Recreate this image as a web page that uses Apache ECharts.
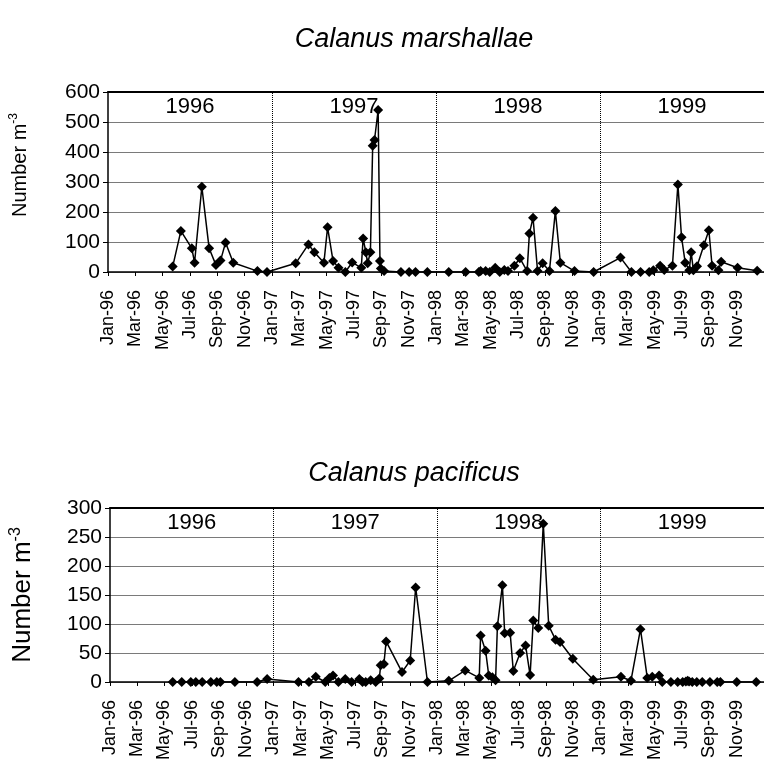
<!DOCTYPE html>
<html>
<head>
<meta charset="utf-8">
<script src="https://cdn.jsdelivr.net/npm/echarts@6/dist/echarts.min.js"></script>
<style>
  html, body { margin: 0; padding: 0; background: #fff; }
  #chart { width: 764px; height: 763px; }
</style>
</head>
<body>
<div id="chart"></div>
<script>
// sampling dates and densities (Number m-3)
const marshallaeDates = [
  '1996-05-23','1996-06-11','1996-07-05','1996-07-11','1996-07-27','1996-08-13','1996-08-28','1996-09-08','1996-09-19','1996-10-06','1996-11-29','1996-12-20',
  '1997-02-23','1997-03-21','1997-04-04','1997-04-25','1997-05-03','1997-05-15','1997-05-27','1997-06-12','1997-06-27','1997-07-17','1997-07-21','1997-07-27',
  '1997-07-31','1997-08-07','1997-08-12','1997-08-16','1997-08-24','1997-08-28','1997-08-30','1997-09-07','1997-10-14','1997-11-02','1997-11-16','1997-12-12',
  '1998-01-29','1998-03-06','1998-04-05','1998-04-09','1998-04-20','1998-04-29','1998-05-11','1998-05-21','1998-06-01','1998-06-09','1998-06-23','1998-07-05',
  '1998-07-21','1998-07-26','1998-08-04','1998-08-14','1998-08-25','1998-09-10','1998-09-23','1998-10-04','1998-11-05','1998-12-17',
  '1999-02-16','1999-03-10','1999-03-30','1999-04-19','1999-04-28','1999-05-13','1999-05-22','1999-06-10','1999-06-22','1999-06-30','1999-07-08','1999-07-17',
  '1999-07-21','1999-07-26','1999-08-04','1999-08-19','1999-08-30','1999-09-07','1999-09-21','1999-09-27','1999-11-03','1999-12-16'
];
const marshallaeValues = [
  18,137,79,31,284,79,23,38,98,31,3,0,
  29,92,66,31,149,37,14,0,32,14,112,66,
  29,66,421,440,540,37,12,3,0,0,0,0,
  0,0,0,3,3,0,14,0,7,3,21,46,
  3,128,181,3,29,3,203,31,3,0,
  48,0,0,0,6,21,7,21,292,116,31,6,
  66,6,19,89,139,21,6,34,14,4
];

const pacificusDates = [
  '1996-05-19','1996-06-09','1996-06-29','1996-07-10','1996-07-24','1996-08-13','1996-08-26','1996-09-04','1996-10-06','1996-11-25','1996-12-17',
  '1997-02-26','1997-03-19','1997-04-04','1997-04-25','1997-05-04','1997-05-12','1997-05-24','1997-06-09','1997-06-23','1997-07-10','1997-07-17','1997-07-24',
  '1997-08-05','1997-08-16','1997-08-24','1997-08-27','1997-09-04','1997-09-09','1997-10-14','1997-11-02','1997-11-14','1997-12-10',
  '1998-01-27','1998-03-03','1998-04-04','1998-04-07','1998-04-18','1998-04-25','1998-05-03','1998-05-10','1998-05-14','1998-05-25','1998-05-30','1998-06-12',
  '1998-06-19','1998-07-04','1998-07-16','1998-07-26','1998-08-03','1998-08-14','1998-08-25','1998-09-07','1998-09-22','1998-10-02','1998-10-30','1998-12-15',
  '1999-02-16','1999-03-08','1999-03-29','1999-04-14','1999-04-25','1999-05-10','1999-05-17','1999-06-06','1999-06-21','1999-07-02','1999-07-09','1999-07-13',
  '1999-07-16','1999-07-23','1999-08-03','1999-08-15','1999-09-02','1999-09-18','1999-09-25','1999-11-01','1999-12-14'
];
const pacificusValues = [
  0,0,0,0,0,0,0,0,0,0,5,
  0,0,9,0,7,11,0,5,0,5,0,0,
  3,0,6,29,31,70,17,37,163,0,
  2,20,7,80,54,11,8,3,96,167,84,85,
  19,50,63,12,106,93,273,97,73,69,40,4,
  9,2,91,7,9,11,0,0,0,0,1,2,
  1,0,0,0,0,0,0,0,0
];

const years = ['1996', '1997', '1998', '1999'];
const monthNames = ['Jan','Feb','Mar','Apr','May','Jun','Jul','Aug','Sep','Oct','Nov','Dec'];
const yearBreaks = [12, 24, 36];

const FONT = 'Liberation Sans, Arial, sans-serif';

// months since Jan 1996
function monthIndex(s) {
  const p = s.split('-').map(Number);
  return (p[0] - 1996) * 12 + (p[1] - 1) + (p[2] - 1) / 30;
}
function pairs(dates, values) {
  return dates.map((d, i) => [monthIndex(d), values[i]]);
}
function tickLabel(v) {
  if (v >= 48) return '';
  return monthNames[v % 12] + '-' + (96 + Math.floor(v / 12));
}

function xAxes(gridIndex) {
  return [{
    type: 'value', gridIndex: gridIndex, min: 0, max: 48, interval: 2,
    axisLine: { lineStyle: { color: '#000', width: 1.5 } },
    axisTick: { length: 4, lineStyle: { color: '#000' } },
    axisLabel: { rotate: 90, margin: 18, fontSize: 18, color: '#000', fontFamily: FONT, formatter: tickLabel },
    splitLine: { show: false }
  }, {
    type: 'value', gridIndex: gridIndex, min: 0, max: 48, position: 'top',
    axisLine: { lineStyle: { color: '#000', width: 2 } },
    axisTick: { show: false }, axisLabel: { show: false }, splitLine: { show: false }
  }];
}

function yAxis(gridIndex, max, interval, nameSize, namePad, nameGap) {
  return {
    type: 'value', gridIndex: gridIndex, min: 0, max: max, interval: interval,
    name: 'Number m{sup|-3}', nameLocation: 'middle', nameRotate: 90, nameGap: nameGap,
    nameTextStyle: {
      fontSize: nameSize, color: '#000', fontFamily: FONT, lineHeight: nameSize + 4,
      padding: namePad,
      rich: { sup: { fontSize: Math.round(nameSize * 0.6), fontFamily: FONT, color: '#000', verticalAlign: 'top', lineHeight: nameSize + 4 } }
    },
    axisLine: { show: true, lineStyle: { color: '#000', width: 1.5 } },
    axisTick: { show: true, length: 5, lineStyle: { color: '#000' } },
    axisLabel: { fontSize: 21, color: '#000', fontFamily: FONT, margin: 8 },
    splitLine: { lineStyle: { color: '#7a7a7a', width: 1 } }
  };
}

function dataSeries(idx, dates, values, yearY) {
  return [{
    type: 'line', xAxisIndex: idx * 2, yAxisIndex: idx,
    data: pairs(dates, values),
    symbol: 'diamond', symbolSize: 10,
    itemStyle: { color: '#000' },
    lineStyle: { color: '#000', width: 1.5 },
    markLine: {
      silent: true, symbol: ['none', 'none'], label: { show: false },
      lineStyle: { color: '#000', type: 'dotted', width: 1 },
      data: yearBreaks.map(v => ({ xAxis: v }))
    },
    animation: false, z: 3
  }, {
    type: 'scatter', xAxisIndex: idx * 2, yAxisIndex: idx,
    data: years.map((y, i) => ({ name: y, value: [i * 12 + 6, yearY] })),
    symbolSize: 0, silent: true,
    itemStyle: { opacity: 1, color: '#000' },
    label: { show: true, position: 'inside', formatter: '{b}', fontSize: 22, color: '#000', fontFamily: FONT },
    animation: false, z: 2
  }];
}

const chart = echarts.init(document.getElementById('chart'));
chart.setOption({
  backgroundColor: '#fff',
  animation: false,
  title: [
    { text: 'Calanus marshallae', left: 409, top: 21, textAlign: 'center',
      textStyle: { fontSize: 27, fontStyle: 'italic', fontWeight: 'normal', color: '#000', fontFamily: FONT } },
    { text: 'Calanus pacificus', left: 409, top: 455, textAlign: 'center',
      textStyle: { fontSize: 27, fontStyle: 'italic', fontWeight: 'normal', color: '#000', fontFamily: FONT } }
  ],
  grid: [
    { left: 107, top: 92, height: 180, right: -7 },
    { left: 107, top: 508, height: 181, right: -7 }
  ],
  xAxis: xAxes(0).concat(xAxes(1)),
  yAxis: [
    yAxis(0, 600, 100, 20, [0, 0, 0, 34], 76),
    yAxis(1, 300, 50, 26, [0, 0, 0, 0], 72)
  ],
  series: dataSeries(0, marshallaeDates, marshallaeValues, 550)
    .concat(dataSeries(1, pacificusDates, pacificusValues, 275))
});
</script>
</body>
</html>
